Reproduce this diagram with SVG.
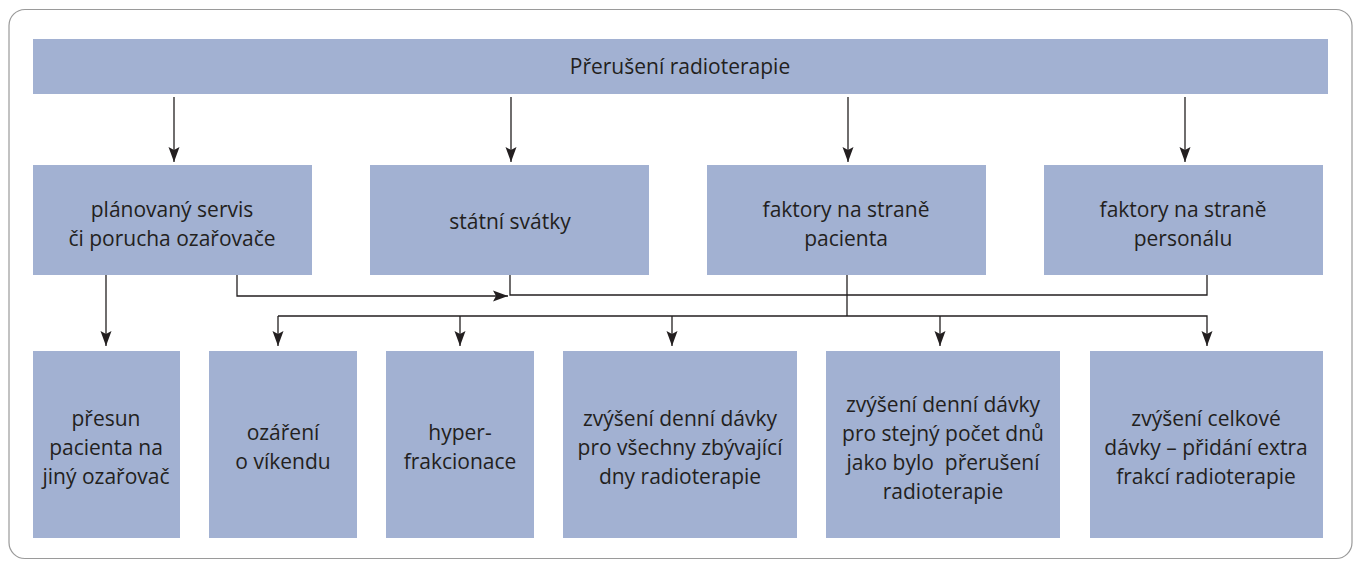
<svg xmlns="http://www.w3.org/2000/svg" width="1354" height="561" viewBox="0 0 1354 561">
<style>
.box{fill:#a2b1d2}
.t{font-family:"Open Sans","Noto Sans",sans-serif;font-size:21px;fill:#231f20;text-anchor:middle}
.c{fill:none;stroke:#231f20;stroke-width:1.3}
</style>
<defs>
<marker id="ah" markerUnits="userSpaceOnUse" markerWidth="16" markerHeight="12" refX="15" refY="6" orient="auto">
<path d="M0,0.5 L15,6 L0,11.5 L3,6 z" fill="#231f20"/>
</marker>
</defs>
<rect x="9" y="9.5" width="1343" height="549" rx="16" fill="#fff" stroke="#9a9a9a" stroke-width="1.2"/>
<g id="n-top"><rect class="box" x="33" y="39" width="1295" height="55"/><text class="t" x="680" y="74">Přerušení radioterapie</text></g>
<g id="n-m1"><rect class="box" x="33" y="165" width="279" height="110"/><text class="t" x="172" y="217">plánovaný servis</text><text class="t" x="172" y="246">či porucha ozařovače</text></g>
<g id="n-m2"><rect class="box" x="370" y="165" width="279" height="110"/><text class="t" x="510" y="229">státní svátky</text></g>
<g id="n-m3"><rect class="box" x="707" y="165" width="279" height="110"/><text class="t" x="846" y="217">faktory na straně</text><text class="t" x="846" y="246">pacienta</text></g>
<g id="n-m4"><rect class="box" x="1044" y="165" width="279" height="110"/><text class="t" x="1183" y="217">faktory na straně</text><text class="t" x="1183" y="246">personálu</text></g>
<g id="n-b1"><rect class="box" x="33" y="351" width="147" height="187"/><text class="t" x="106" y="426">přesun</text><text class="t" x="106" y="455">pacienta na</text><text class="t" x="106" y="484">jiný ozařovač</text></g>
<g id="n-b2"><rect class="box" x="209" y="351" width="148" height="187"/><text class="t" x="283" y="440">ozáření</text><text class="t" x="283" y="469">o víkendu</text></g>
<g id="n-b3"><rect class="box" x="386" y="351" width="148" height="187"/><text class="t" x="460" y="440">hyper-</text><text class="t" x="460" y="469">frakcionace</text></g>
<g id="n-b4"><rect class="box" x="563" y="351" width="234" height="187"/><text class="t" x="680" y="426">zvýšení denní dávky</text><text class="t" x="680" y="455">pro všechny zbývající</text><text class="t" x="680" y="484">dny radioterapie</text></g>
<g id="n-b5"><rect class="box" x="826" y="351" width="234" height="187"/><text class="t" x="943" y="412">zvýšení denní dávky</text><text class="t" x="943" y="441">pro stejný počet dnů</text><text class="t" x="943" y="470" xml:space="preserve">jako bylo  přerušení</text><text class="t" x="943" y="499">radioterapie</text></g>
<g id="n-b6"><rect class="box" x="1090" y="351" width="233" height="187"/><text class="t" x="1206" y="426">zvýšení celkové</text><text class="t" x="1206" y="455">dávky – přidání extra</text><text class="t" x="1206" y="484">frakcí radioterapie</text></g>
<g id="connectors">
<line class="c" x1="174" y1="97" x2="174" y2="162" marker-end="url(#ah)"/>
<line class="c" x1="511" y1="97" x2="511" y2="162" marker-end="url(#ah)"/>
<line class="c" x1="848" y1="97" x2="848" y2="162" marker-end="url(#ah)"/>
<line class="c" x1="1185" y1="97" x2="1185" y2="162" marker-end="url(#ah)"/>
<line class="c" x1="106" y1="275" x2="106" y2="346" marker-end="url(#ah)"/>
<polyline class="c" points="237,275 237,296 508,296" marker-end="url(#ah)"/>
<polyline class="c" points="510,275 510,295 1207,295 1207,275"/>
<line class="c" x1="847" y1="275" x2="847" y2="316"/>
<polyline class="c" points="278,316 1207,316 1207,346" marker-end="url(#ah)"/>
<line class="c" x1="278" y1="316" x2="278" y2="346" marker-end="url(#ah)"/>
<line class="c" x1="460" y1="316" x2="460" y2="346" marker-end="url(#ah)"/>
<line class="c" x1="672" y1="316" x2="672" y2="346" marker-end="url(#ah)"/>
<line class="c" x1="940" y1="316" x2="940" y2="346" marker-end="url(#ah)"/>
</g>
</svg>
